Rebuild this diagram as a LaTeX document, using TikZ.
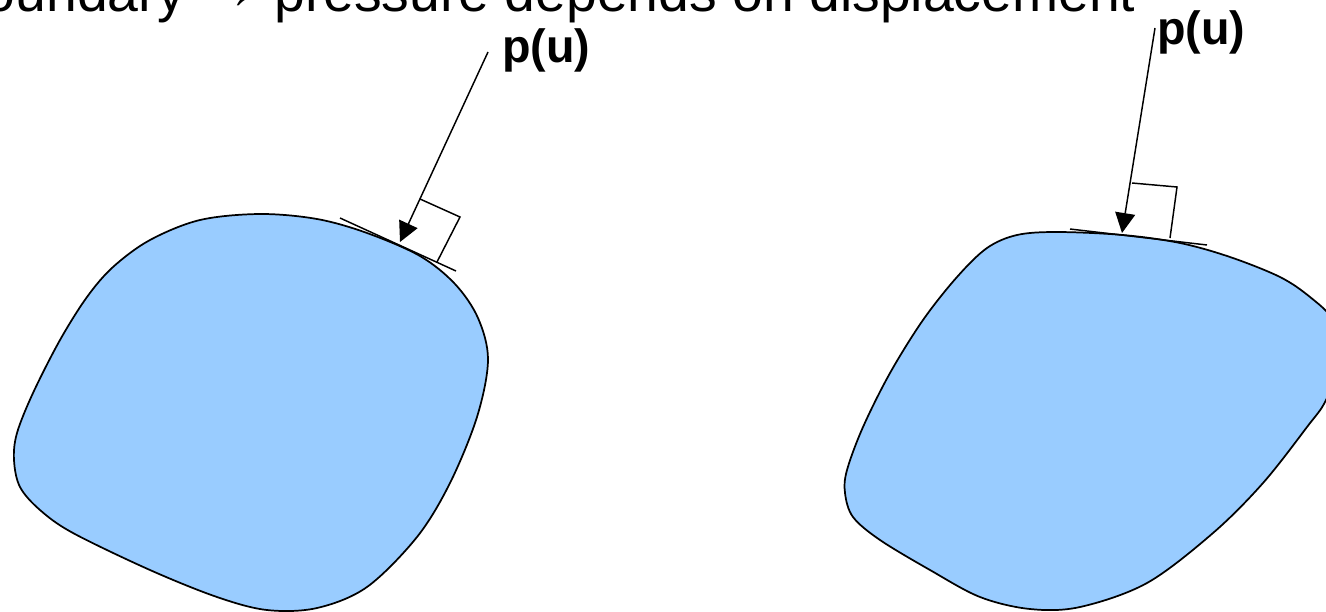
\documentclass[tikz,border=0pt]{standalone}
\usepackage{fontspec}
\setmainfont{Liberation Sans}
\usetikzlibrary{arrows.meta}
\definecolor{bodyblue}{RGB}{153,204,255}
\begin{document}
\begin{tikzpicture}[x=0.75pt,y=-0.75pt,
  body/.style={draw=black, line width=1.3pt, fill=bodyblue},
  tangent/.style={line width=1.1pt},
  marker/.style={line width=1.1pt},
  load/.style={line width=1.1pt, -{Triangle[length=15pt,width=15pt]}},
  lbl/.style={font=\bfseries\fontsize{35}{42}\selectfont, inner sep=0pt, anchor=base west},
  heading/.style={font=\fontsize{41.5}{50}\selectfont, inner sep=0pt}]
\useasboundingbox (0,0) rectangle (1326,611);
\clip (0,0) rectangle (1326,611);

% heading
\node[heading, anchor=base east] (h1) at (185,11) {boundary};
\node[heading, anchor=base west] (h2) at (202,8) {→};
\node[heading, anchor=base west] (h3) at (274,11) {pressure depends on displacement};

% left body
\draw[body] plot[smooth cycle, tension=0.55] coordinates {
  (260,214) (317,219) (367,233) (420,256) (455,284) (478,318)
  (488,360) (477,417) (450,483) (417,537) (367,587) (317,608)
  (267,610) (217,597) (150,570) (73,533) (40,510) (20,487)
  (14,460) (17,433) (33,393) (60,340) (87,297) (113,267)
  (150,240) (200,220)};

% left follower load
\coordinate (lt1) at (340,218);
\coordinate (lt2) at (456,271);
\coordinate (ls) at (488,52);
\coordinate (le) at (400,242);
\coordinate (lb1) at (420,199);
\coordinate (lb2) at (460,217);
\coordinate (lb3) at (437,262);
\draw[tangent] (lt1) -- (lt2);
\draw[marker] (lb1) -- (lb2) -- (lb3);
\draw[load] (ls) -- (le);
\node[lbl] (lp) at (502,62) {p(u)};

% right body
\draw[body] plot[smooth cycle, tension=0.55] coordinates {
  (1057,232) (1123,235) (1180,243) (1230,257) (1280,277) (1310,297)
  (1333,320) (1342,355) (1326,400) (1307,427) (1263,483) (1213,533)
  (1147,583) (1080,607) (1030,609) (980,597) (930,570) (880,540)
  (853,517) (845,493) (847,470) (863,427) (890,373) (923,320)
  (957,277) (987,248) (1017,235)};

% right follower load
\coordinate (rt1) at (1070,229);
\coordinate (rt2) at (1207,245);
\coordinate (rs) at (1155,28);
\coordinate (re) at (1122,233);
\coordinate (rb1) at (1132,183);
\coordinate (rb2) at (1177,187);
\coordinate (rb3) at (1170,238);
\draw[tangent] (rt1) -- (rt2);
\draw[marker] (rb1) -- (rb2) -- (rb3);
\draw[load] (rs) -- (re);
\node[lbl] (rp) at (1157,44) {p(u)};
\end{tikzpicture}
\end{document}
